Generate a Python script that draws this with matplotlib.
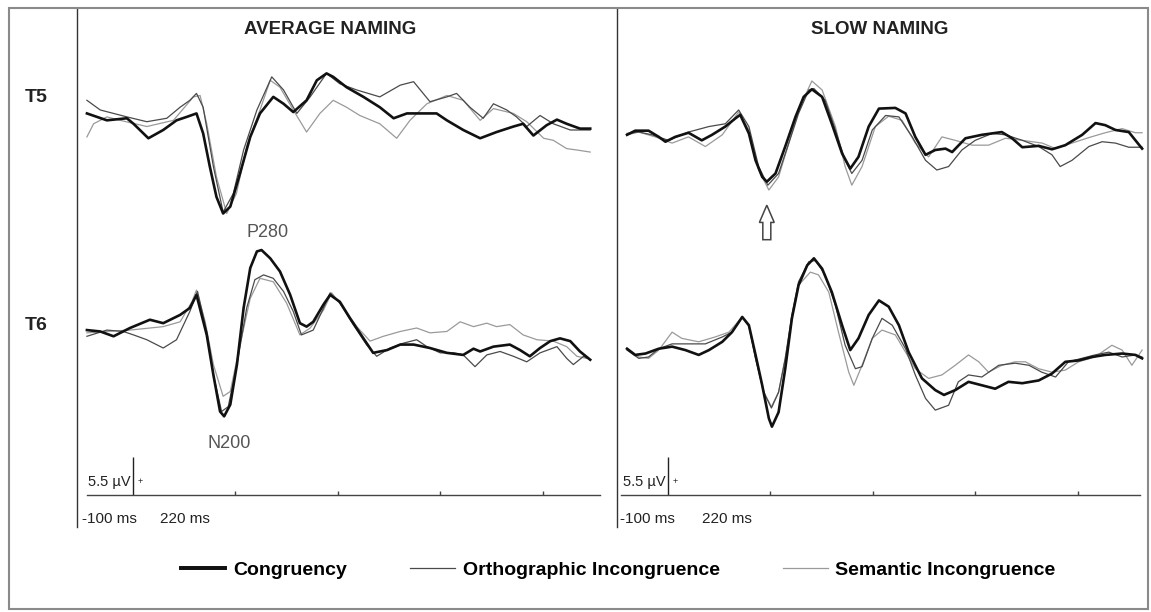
import matplotlib
matplotlib.use("Agg")
import matplotlib.pyplot as plt
from matplotlib.patches import Rectangle, FancyArrow
from matplotlib.lines import Line2D

# ERP waveforms, (time ms, amplitude uV)
avg_t5_cong = [(-90, 0.5), (-51, -0.5), (-12, -0.2), (1, -1.0), (30, -3.1), (59, -1.9), (85, -0.5),
               (105, 0), (124, 0.5), (137, -2.4), (150, -7.2), (163, -11.6), (176, -14.0), (190, -13.0),
               (209, -8.2), (229, -2.9), (248, 0.5), (274, 2.9), (294, 1.9), (313, 0.7), (339, 2.4),
               (359, 5.3), (378, 6.3), (391, 5.8), (417, 4.3), (450, 2.9), (482, 1.4), (509, -0.2),
               (535, 0.5), (593, 0.5), (613, -0.5), (645, -1.9), (678, -3.1), (710, -2.2), (743, -1.4),
               (762, -1.0), (782, -2.7), (808, -1.2), (828, -0.4), (847, -1.0), (873, -1.7), (893, -1.7)]
avg_t5_orth = [(-90, 2.4), (-64, 1.0), (-38, 0.5), (-12, 0), (27, -0.7), (66, -0.2), (92, 1.4),
               (111, 2.4), (124, 3.4), (137, 1.4), (157, -7.2), (176, -13.8), (196, -11.1), (216, -4.8),
               (242, 1.0), (271, 5.8), (294, 3.9), (320, 0.5), (346, 2.9), (378, 6.3), (404, 4.8),
               (437, 3.9), (482, 2.9), (522, 4.6), (548, 5.1), (580, 2.2), (613, 2.9), (632, 3.4),
               (658, 1.4), (684, -0.2), (704, 1.9), (730, 1.0), (749, 0), (769, -1.4), (795, 0.2),
               (821, -1.0), (854, -1.9), (893, -1.9)]
avg_t5_sem = [(-90, -2.9), (-77, -1.0), (-51, 0), (-25, -0.5), (27, -1.4), (79, -0.5), (118, 2.9),
              (131, 3.1), (144, -1.0), (163, -8.7), (183, -14.0), (202, -11.1), (222, -4.3), (248, 1.0),
              (268, 5.3), (287, 4.3), (313, 1.0), (339, -2.2), (365, 0.5), (391, 2.4), (417, 1.4),
              (443, 0.2), (482, -1.0), (515, -3.1), (541, -0.5), (574, 1.9), (613, 3.1), (645, 2.4),
              (678, -0.5), (704, 1.2), (743, 0.5), (769, -0.7), (802, -3.1), (821, -3.4), (847, -4.6),
              (867, -4.8), (893, -5.1)]

avg_t6_cong = [(-90, 0.2), (-64, 0), (-38, -0.7), (-6, 0.5), (33, 1.7), (59, 1.2), (92, 2.4), (111, 3.4),
               (124, 5.3), (144, -0.5), (157, -6.3), (170, -11.6), (178, -12.3), (190, -10.6), (203, -4.8),
               (216, 3.4), (229, 9.2), (242, 11.6), (251, 11.8), (268, 10.6), (287, 8.7), (307, 5.3),
               (326, 1.2), (339, 0.7), (352, 1.4), (372, 3.9), (385, 5.3), (404, 4.3), (424, 1.9),
               (450, -1.0), (469, -3.1), (496, -2.7), (522, -1.9), (548, -1.9), (580, -2.4), (613, -3.1),
               (645, -3.4), (665, -2.5), (678, -2.9), (704, -2.2), (736, -1.9), (756, -2.7), (775, -3.6),
               (795, -2.4), (815, -1.4), (834, -1.0), (854, -1.4), (873, -2.9), (893, -4.1)]
avg_t6_orth = [(-90, -0.7), (-51, 0.2), (-19, 0), (1, -0.5), (27, -1.2), (59, -2.4), (85, -1.2),
               (111, 2.9), (126, 5.8), (144, 0), (157, -6.3), (173, -11.6), (186, -10.9), (203, -4.8),
               (222, 3.4), (238, 7.5), (255, 8.2), (274, 7.7), (294, 5.8), (313, 2.9), (329, -0.5),
               (352, 0.2), (369, 2.9), (385, 5.6), (404, 4.1), (430, 1.0), (456, -1.9), (476, -3.6),
               (502, -2.4), (528, -1.7), (554, -1.2), (574, -2.2), (600, -3.1), (626, -3.1), (645, -3.4),
               (668, -5.1), (691, -3.4), (717, -2.9), (743, -3.6), (769, -4.4), (795, -3.1), (828, -2.2),
               (847, -3.9), (860, -4.8), (880, -3.6), (893, -4.1)]
avg_t6_sem = [(-90, -0.2), (-51, 0), (-6, 0.2), (59, 0.7), (92, 1.4), (115, 4.3), (124, 6.0), (141, 1.4),
              (157, -4.8), (176, -9.4), (190, -8.7), (209, -1.9), (229, 4.8), (248, 7.7), (274, 7.2),
              (300, 4.1), (326, -0.5), (346, 0.5), (372, 3.1), (388, 5.6), (411, 3.4), (437, 0.7),
              (463, -1.4), (489, -0.7), (522, 0), (554, 0.5), (580, -0.2), (613, 0), (639, 1.4),
              (665, 0.7), (691, 1.2), (710, 0.7), (736, 1.0), (762, -0.5), (789, -1.2), (821, -1.4),
              (847, -2.2), (867, -3.6), (886, -3.9)]

slow_t5_cong = [(-80, -0.2), (-64, 0.4), (-38, 0.4), (-18, -0.5), (-5, -1.2), (14, -0.5), (40, 0.1),
                (66, -1.0), (86, -0.2), (112, 1.0), (132, 2.2), (141, 2.7), (158, 0), (171, -3.9),
                (184, -6.3), (193, -7.0), (210, -5.8), (229, -1.9), (249, 2.4), (265, 5.3), (281, 6.4),
                (301, 5.3), (320, 1.4), (340, -2.9), (356, -5.1), (372, -3.4), (392, 1.0), (412, 3.6),
                (444, 3.7), (464, 2.9), (483, -0.5), (503, -3.1), (522, -2.4), (542, -2.2), (555, -2.7),
                (581, -0.7), (613, -0.2), (652, 0.2), (672, -0.7), (692, -2.0), (724, -1.8), (750, -2.3),
                (776, -1.7), (809, -0.2), (835, 1.5), (854, 1.2), (874, 0.5), (900, 0.2), (926, -2.2)]
slow_t5_orth = [(-80, 0), (-57, 0.2), (-31, -0.2), (1, -1.0), (40, 0.2), (80, 1.0), (112, 1.4),
                (138, 3.4), (158, 1.0), (177, -4.8), (195, -7.5), (216, -5.8), (236, -1.4), (255, 2.9),
                (275, 6.3), (285, 6.5), (307, 4.8), (327, 0.5), (346, -3.9), (359, -5.8), (379, -3.9),
                (399, 0.5), (425, 2.6), (451, 2.4), (477, -0.5), (503, -3.9), (525, -5.3), (548, -4.8),
                (574, -2.4), (600, -1.0), (633, 0), (659, -0.2), (692, -1.0), (724, -1.9), (750, -3.1),
                (766, -4.8), (789, -3.9), (822, -1.9), (848, -1.2), (874, -1.4), (900, -2.0), (926, -2.0)]
slow_t5_sem = [(-80, -0.2), (-57, 0.2), (-25, -0.5), (8, -1.4), (40, -0.5), (73, -1.9), (106, -0.2),
               (138, 3.1), (158, 0.5), (177, -5.3), (197, -8.2), (216, -6.3), (236, -1.4), (255, 3.4),
               (281, 7.6), (301, 6.3), (327, 1.0), (346, -4.8), (359, -7.5), (379, -4.8), (405, 1.0),
               (431, 2.5), (457, 1.9), (483, -1.4), (509, -3.4), (535, -0.5), (561, -1.0), (594, -1.7),
               (626, -1.7), (659, -0.7), (692, -1.0), (731, -1.4), (757, -2.2), (789, -1.4), (822, -0.6),
               (854, 0.1), (887, 0.7), (913, 0.1), (926, 0.1)]

slow_t6_cong = [(-80, 0.7), (-64, -0.2), (-44, 0), (-18, 0.7), (8, 1.0), (34, 0.5), (60, -0.2), (80, 0.5),
                (106, 1.7), (125, 3.1), (145, 5.3), (158, 4.1), (171, -0.2), (184, -4.6), (197, -9.4),
                (203, -10.6), (216, -8.5), (229, -2.2), (242, 5.1), (255, 9.9), (272, 12.8), (285, 13.8),
                (301, 12.3), (320, 8.9), (340, 4.1), (356, 0.5), (372, 2.2), (392, 5.6), (412, 7.7),
                (431, 6.8), (451, 4.1), (470, 0.2), (496, -3.6), (522, -5.3), (539, -6.0), (561, -5.3),
                (587, -4.1), (613, -4.6), (639, -5.1), (665, -4.1), (692, -4.3), (724, -3.9), (750, -2.9),
                (776, -1.2), (802, -1.0), (828, -0.5), (854, -0.2), (887, 0), (913, -0.2), (926, -0.7)]
slow_t6_orth = [(-80, 0.5), (-57, -0.7), (-38, -0.5), (-18, 0.7), (8, 1.4), (40, 1.4), (73, 1.4),
                (106, 2.4), (125, 3.1), (145, 5.3), (158, 4.1), (171, -0.7), (187, -5.6), (202, -7.9),
                (216, -5.6), (229, -0.7), (242, 5.6), (255, 10.4), (275, 13.3), (288, 13.5), (307, 11.4),
                (327, 7.0), (346, 1.2), (366, -2.2), (379, -1.9), (399, 2.2), (418, 5.1), (438, 4.1),
                (464, 0.7), (483, -3.1), (503, -6.5), (522, -8.2), (548, -7.5), (567, -4.1), (587, -3.1),
                (613, -3.4), (646, -1.7), (678, -1.4), (705, -1.7), (730, -2.7), (757, -3.4), (782, -1.2),
                (808, -0.7), (834, -0.2), (861, 0.2), (887, -0.5), (913, -0.2), (926, -0.5)]
slow_t6_sem = [(-80, 0.7), (-57, -0.5), (-38, -0.7), (-18, 0.5), (8, 3.1), (27, 2.2), (60, 1.7),
               (92, 2.4), (119, 3.1), (145, 5.3), (158, 3.9), (171, -0.7), (187, -5.6), (202, -7.7),
               (216, -5.6), (229, -0.7), (242, 5.1), (255, 9.9), (278, 11.8), (294, 11.4), (314, 8.9),
               (333, 3.1), (353, -2.7), (363, -4.6), (379, -1.7), (399, 2.2), (418, 3.4), (444, 2.7),
               (464, 0.2), (483, -2.2), (509, -3.6), (535, -3.1), (561, -1.7), (587, -0.2), (607, -1.2),
               (626, -2.7), (652, -1.7), (678, -1.2), (698, -1.2), (724, -2.2), (750, -2.7), (776, -2.4),
               (802, -1.2), (834, -0.5), (867, 1.2), (887, 0.5), (906, -1.7), (926, 0.5)]

conditions = ["Congruency", "Orthographic Incongruence", "Semantic Incongruence"]
panel_titles = ["AVERAGE NAMING", "SLOW NAMING"]
channels = ["T5", "T6"]
scale_uv = 5.5
tick_ms = [200, 400, 600, 800]

# styles
colors = ["#111111", "#4a4a4a", "#9a9a9a"]
widths = [1.9, 0.9, 0.9]
zorders = [3, 2, 1]

W, H = 1151, 612
font = "Liberation Sans"


def fx(px):
    return px / W


def fy(py):
    return 1 - py / H


def draw_panel(ax, traces, offsets, title, title_x, ms_labels, axis_span):
    for (cong, orth, sem), off in zip(traces, offsets):
        for tr, c, lw, z in zip((cong, orth, sem), colors, widths, zorders):
            t = [p[0] for p in tr]
            v = [p[1] + off for p in tr]
            ax.plot(t, v, color=c, lw=lw, zorder=z, solid_joinstyle="round")
    ax.set_ylim(-4.64, 70.58)
    for s in ["top", "right"]:
        ax.spines[s].set_visible(False)
    ax.spines["left"].set_color("#333333")
    ax.spines["left"].set_linewidth(1.0)
    ax.spines["bottom"].set_position(("data", 0))
    ax.spines["bottom"].set_bounds(*axis_span)
    ax.spines["bottom"].set_color("#444444")
    ax.spines["bottom"].set_linewidth(1.0)
    ax.set_xticks(tick_ms)
    ax.set_xticklabels([])
    ax.tick_params(axis="x", direction="in", length=3, width=1, color="#444444")
    ax.set_yticks([])
    # amplitude scale bar
    ax.vlines(0, 0, scale_uv, color="#222222", lw=1.0)
    ax.text(-4, 1.9, "5.5 \u00b5V", ha="right", va="center", fontsize=10.5, family=font, color="#222222")
    ax.text(14, 1.9, "+", ha="center", va="center", fontsize=6.5, family=font, color="#222222")
    ax.text(ms_labels[0], -3.5, "-100 ms", ha="left", va="center", fontsize=11, family=font, color="#222222")
    ax.text(ms_labels[1], -3.5, "220 ms", ha="left", va="center", fontsize=11, family=font, color="#222222")
    ax.text(title_x, 0.958, title, transform=ax.transAxes, ha="center", va="center",
            fontsize=13.5, fontweight="bold", family=font, color="#222222")


fig = plt.figure(figsize=(W / 100, H / 100), dpi=100)

ax1 = fig.add_axes([fx(77), fy(527), fx(540), 519 / H])
ax1.set_xlim(-109.4, 945.3)
draw_panel(ax1, [(avg_t5_cong, avg_t5_orth, avg_t5_sem), (avg_t6_cong, avg_t6_orth, avg_t6_sem)],
           [54.8, 23.7], panel_titles[0], 0.4685, (-100, 53), (-90, 912))
ax1.text(262, 38.1, "P280", ha="center", va="center", fontsize=13, family=font, color="#555555")
ax1.text(187, 7.4, "N200", ha="center", va="center", fontsize=13, family=font, color="#555555")

ax2 = fig.add_axes([fx(617), fy(527), fx(529), 519 / H])
ax2.set_xlim(-99.6, 933.6)
draw_panel(ax2, [(slow_t5_cong, slow_t5_orth, slow_t5_sem), (slow_t6_cong, slow_t6_orth, slow_t6_sem)],
           [52.4, 20.5], panel_titles[1], 0.497, (-94, 66), (-92, 922))

# hollow arrow under the slow-naming T5 N200
t_min = min(slow_t5_cong, key=lambda p: p[1])[0]
ax2.add_patch(FancyArrow(t_min, 37.0, 0, 5.0, width=15.6, head_width=29, head_length=2.5,
                         length_includes_head=True, facecolor="white", edgecolor="#444444", lw=1.1))

# channel labels
for name, py in zip(channels, [97, 325]):
    fig.text(fx(36), fy(py), name, ha="center", va="center", fontsize=14,
             fontweight="bold", family=font, color="#222222")

# outer frame
fig.patches.append(Rectangle((fx(9), fy(609)), fx(1139), (609 - 8) / H, transform=fig.transFigure,
                             fill=False, edgecolor="#8a8a8a", lw=1.5))

handles = [Line2D([], [], color=c, lw=lw * 1.5 if i == 0 else lw) for i, (c, lw) in enumerate(zip(colors, widths))]
fig.legend(handles, conditions, loc="center", bbox_to_anchor=(0.537, fy(570)), ncol=3, frameon=False,
           prop={"family": font, "weight": "bold", "size": 14}, handlelength=2.3, handletextpad=0.4,
           columnspacing=3.25)

fig.savefig("out.png", dpi=100)
